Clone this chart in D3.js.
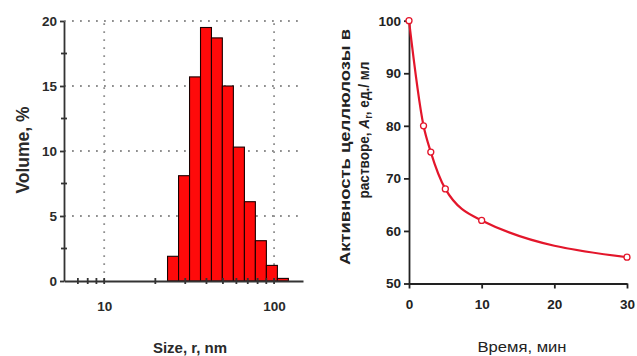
<!DOCTYPE html>
<html>
<head>
<meta charset="utf-8">
<script src="https://cdn.jsdelivr.net/npm/d3@7/dist/d3.min.js"></script>
<style>
  html, body { margin: 0; padding: 0; background: #fff; }
  svg { display: block; font-family: "Liberation Sans", Arial, sans-serif; }
</style>
</head>
<body>
<svg id="chart" width="637" height="356"></svg>
<script>
// ---- Left chart: particle size distribution (log-scaled bins) ----
const sizeBinEdges = [23.6, 27.4, 31.8, 36.9, 42.8, 49.6, 57.6, 66.9, 77.6, 90.1, 104.6, 121.4];
const volumePct = [1.9, 8.1, 15.7, 19.5, 18.7, 15.0, 10.3, 6.1, 3.1, 1.2, 0.2];
const sizeTickLabels = [10, 100];
const sizeMinorTicks = [7, 8, 9, 10, 20, 30, 40, 50, 60, 70, 80, 90, 100];
const volumeTicks = [0, 5, 10, 15, 20];
const volumeMinorTicks = [2.5, 7.5, 12.5, 17.5];

// ---- Right chart: cellulase activity vs time ----
const timeMin = [0, 2, 3, 5, 10, 30];
const activity = [100, 80, 75, 68, 62, 55];
const timeTicks = [0, 10, 20, 30];
const activityTicks = [50, 60, 70, 80, 90, 100];

const svg = d3.select("#chart");
const FONT = '"Liberation Sans", Arial, sans-serif';

// ===== LEFT =====
const xL = d3.scaleLog().domain([5.8, 148]).range([64, 303]);
const yL = d3.scaleLinear().domain([0, 20]).range([281, 21]);

const gL = svg.append("g");
// grid
gL.selectAll("line.hgrid").data(volumeTicks.filter(d => d > 0)).join("line")
  .attr("x1", xL.range()[0]).attr("x2", xL.range()[1])
  .attr("y1", d => yL(d)).attr("y2", d => yL(d))
  .attr("stroke", "#8f8f8f").attr("stroke-width", 1.8).attr("stroke-dasharray", "1.8,6.2");
gL.selectAll("line.vgrid").data(sizeTickLabels).join("line")
  .attr("x1", d => xL(d)).attr("x2", d => xL(d))
  .attr("y1", yL(0)).attr("y2", yL(20))
  .attr("stroke", "#8f8f8f").attr("stroke-width", 1.8).attr("stroke-dasharray", "1.8,6.2");

// bars
const bins = volumePct.map((v, i) => ({ x0: sizeBinEdges[i], x1: sizeBinEdges[i + 1], v }));
gL.selectAll("rect.bar").data(bins).join("rect")
  .attr("x", d => xL(d.x0)).attr("width", d => xL(d.x1) - xL(d.x0))
  .attr("y", d => yL(d.v)).attr("height", d => yL(0) - yL(d.v))
  .attr("fill", "#ff0a0a").attr("stroke", "#1a0000").attr("stroke-width", 1.1);

// y axis
const axL = gL.append("g").attr("transform", `translate(${xL.range()[0]},0)`)
  .call(d3.axisLeft(yL).tickValues(volumeTicks).tickSize(4).tickSizeOuter(0).tickPadding(3));
axL.select(".domain").attr("stroke", "#333").attr("stroke-width", 1.8);
axL.selectAll(".tick line").attr("stroke", "#333").attr("stroke-width", 1.8);
axL.selectAll(".tick text").attr("font-family", FONT).attr("font-size", 13.5).attr("font-weight", "bold").attr("fill", "#2a2a2a");
gL.selectAll("line.yminor").data(volumeMinorTicks).join("line")
  .attr("x1", xL.range()[0] - 3).attr("x2", xL.range()[0] + 3)
  .attr("y1", d => yL(d)).attr("y2", d => yL(d))
  .attr("stroke", "#333").attr("stroke-width", 1.8);

// x axis
const axLx = gL.append("g").attr("transform", `translate(0,${yL(0)})`)
  .call(d3.axisBottom(xL).tickValues(sizeTickLabels).tickFormat(d3.format("d")).tickSize(0).tickSizeOuter(0).tickPadding(20));
axLx.select(".domain").attr("stroke", "#333").attr("stroke-width", 1.8);
axLx.selectAll(".tick text").attr("font-family", FONT).attr("font-size", 13.5).attr("font-weight", "bold").attr("fill", "#2a2a2a");
gL.selectAll("line.xminor").data(sizeMinorTicks).join("line")
  .attr("x1", d => xL(d)).attr("x2", d => xL(d))
  .attr("y1", yL(0) - 3).attr("y2", yL(0) + 3)
  .attr("stroke", "#333").attr("stroke-width", 1.8);

// titles
svg.append("text").text("Size, r, nm")
  .attr("x", 190).attr("y", 353).attr("text-anchor", "middle")
  .attr("font-family", FONT).attr("font-size", 15).attr("font-weight", "bold").attr("fill", "#2a2a2a");
svg.append("text").text("Volume, %")
  .attr("transform", "translate(29,150) rotate(-90)").attr("text-anchor", "middle")
  .attr("font-family", FONT).attr("font-size", 17.5).attr("font-weight", "bold").attr("fill", "#2a2a2a");

// ===== RIGHT =====
const xR = d3.scaleLinear().domain([0, 30]).range([409, 627]);
const yR = d3.scaleLinear().domain([50, 100]).range([283.5, 20.7]);
const gR = svg.append("g");

const axRy = gR.append("g").attr("transform", `translate(${xR(0)},0)`)
  .call(d3.axisLeft(yR).tickValues(activityTicks).tickSize(5).tickSizeOuter(0).tickPadding(3));
axRy.select(".domain").attr("stroke", "#222").attr("stroke-width", 1.8);
axRy.selectAll(".tick line").attr("stroke", "#222").attr("stroke-width", 1.8);
axRy.selectAll(".tick text").attr("font-family", FONT).attr("font-size", 13.5).attr("font-weight", "bold").attr("fill", "#222");

const axRx = gR.append("g").attr("transform", `translate(0,${yR(50)})`)
  .call(d3.axisBottom(xR).tickValues(timeTicks).tickSize(5).tickSizeOuter(0).tickPadding(11));
axRx.select(".domain").attr("stroke", "#222").attr("stroke-width", 1.8);
axRx.selectAll(".tick line").attr("stroke", "#222").attr("stroke-width", 1.8);
axRx.selectAll(".tick text").attr("font-family", FONT).attr("font-size", 13.5).attr("font-weight", "bold").attr("fill", "#222");

const pts = timeMin.map((t, i) => ({ t, a: activity[i] }));
gR.append("path").datum(pts)
  .attr("d", d3.line().x(d => xR(d.t)).y(d => yR(d.a)).curve(d3.curveMonotoneX))
  .attr("fill", "none").attr("stroke", "#e3162b").attr("stroke-width", 2.2);
gR.selectAll("circle.pt").data(pts).join("circle")
  .attr("cx", d => xR(d.t)).attr("cy", d => yR(d.a)).attr("r", 3)
  .attr("fill", "#fff").attr("stroke", "#e3162b").attr("stroke-width", 1.3);

svg.append("text").text("Время, мин")
  .attr("x", 522).attr("y", 352).attr("text-anchor", "middle")
  .attr("textLength", 89).attr("lengthAdjust", "spacingAndGlyphs")
  .attr("font-family", FONT).attr("font-size", 14.5).attr("fill", "#222");

svg.append("text")
  .attr("transform", "translate(350,147) rotate(-90)").attr("text-anchor", "middle")
  .attr("textLength", 236).attr("lengthAdjust", "spacingAndGlyphs")
  .attr("font-family", FONT).attr("font-size", 15).attr("font-weight", "bold").attr("fill", "#222")
  .text("Активность целлюлозы в");
const t2 = svg.append("text")
  .attr("transform", "translate(369,130) rotate(-90)").attr("text-anchor", "middle")
  .attr("textLength", 137).attr("lengthAdjust", "spacingAndGlyphs")
  .attr("font-family", FONT).attr("font-size", 14.5).attr("font-weight", "bold").attr("fill", "#222");
t2.append("tspan").text("растворе, ");
t2.append("tspan").text("A").attr("font-style", "italic");
t2.append("tspan").text("r").attr("font-size", 10).attr("dy", 3);
t2.append("tspan").text(", ед./ мл").attr("dy", -3);
</script>
</body>
</html>
